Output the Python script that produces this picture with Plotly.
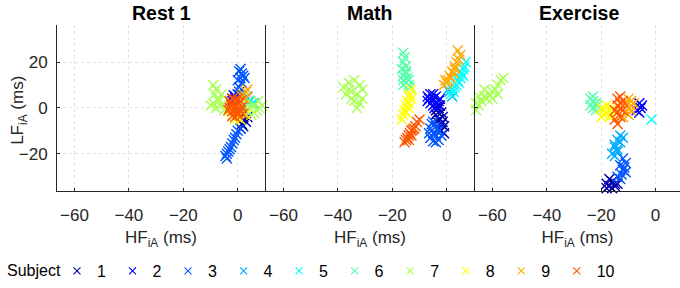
import plotly.graph_objects as go

# ---------------- data ----------------
subject_labels = ["1", "2", "3", "4", "5", "6", "7", "8", "9", "10"]
panel_titles = ["Rest 1", "Math", "Exercise"]
x_ticks = [-60, -40, -20, 0]
y_ticks = [-20, 0, 20]
colors = ["#0000aa", "#0000ff", "#0055ff", "#00aaff", "#00ffff",
          "#55ffaa", "#aaff55", "#ffff00", "#ffaa00", "#ff5500"]

# Rest 1 : HF_iA (x) and LF_iA (y) per subject
rest_hf = [
    [-2, -1, 2, 3, 1.5, 0, -2.5, 2.5, 1, 3.5, -1.5, 2, 2, 1],
    [-1.5, -1, -2, 0],
    [0.5, 1.5, 1, 2, 0, 1.5, 1, 2.5, 0.5, 0.5, 1, 0, -0.5, -1, -1.5, -2, -2.5, -3, -3.5, -4, -4.5, -4],
    [4.5, 5.5, 3.5],
    [5, 4, 6],
    [3, 2.5],
    [-9, -8, -8.5, -7, -9, -6, -8, -5, -7, -6, -10, 4, 6, 7, 5, 8, 6, 3, 9, 7.5],
    [-2, 0, 2, -3, 3, 1, -1],
    [2, 3, 1.5, 3.5, 2.5],
    [-3, -2, -1, 0, 1, -2.5, -1.5, -0.5, 0.5, 1.5, -3.5, -2, -1, 0, 1, -2, -1, 0, -3, 1.8, -0.5, 0.5, -2.5],
]
rest_lf = [
    [4, 5, -4, -6, -7, -3, 2, -2, -5, -4, 1, 0, -8, -9],
    [5.5, 4, 3, 6],
    [16, 15, 13, 14, 12, 11, 17, 13, 9, 7, -9, -10, -11.5, -13, -14, -15.5, -17, -18, -19, -20, -21, -22],
    [3, 2, 5],
    [1.5, 3, 2],
    [-1, 0],
    [10, 8, 6, 4, 2, 1, 0, -1, 3, 6, 1, 0, 1, -1, -3, 0, -2, 2, 1, 3],
    [-3, -4, -2, -1, -3, -5, -5],
    [6, 7, 5, 8, 4],
    [3, 4, 3.5, 4, 3, 1, 1.5, 1, 2, 0.5, -1, -1.5, -1, -2, -1.5, -3.5, -4, -3, 0, -2.5, 2.5, -0.5, 2],
]

# Math
math_hf = [
    [-3, -2, -4, -1.5, -3, -2, -1, -3, -2, -1, -4, -2.5, -3.5, -1.5],
    [-7, -6, -5, -4, -3, -6, -5, -4, -7, -3, -5, -2.5, -6.5, -4.5],
    [-5, -4, -6, -3, -5, -4, -6, -3, -5, -4, -2, -6.5, -5.5, -3.5],
    [1, 2, 0.5],
    [7, 6.5, 6, 5.5, 5, 4, 3.5, 3, 2, 1.5, 2.5, 5, 6, 4.5],
    [-16, -15.5, -16, -15, -16.5, -15, -16, -14.5, -16, -15, -14, -16, -13.5, -15, -14],
    [-38, -36, -34, -32, -35, -33, -31, -37, -34, -32, -33, -35, -31, -36],
    [-13, -13.5, -14, -14.5, -14, -15, -15.5, -15, -16, -16.5, -14, -13],
    [4, 5, 4.5, 3.5, 3, 2, 2.5, 1, 0.5, 0, -1, 1.5, 3, -0.5],
    [-10, -11, -11.5, -12, -13, -13.5, -14, -14.5, -15, -15.5, -12.5, -13, -14],
]
math_lf = [
    [0, -2, -1, -4, -5, -7, -8, -9, -10, -11, -3, 1, -6, -6],
    [5, 6, 4, 5, 3, 2, 1, 2, 3, 1, 6, 4, 4, 0],
    [-6, -8, -9, -10, -11, -12, -13, -14, -14.5, -15, -12, -11, -7, -9],
    [7, 5, 8],
    [20, 18, 17, 15, 13, 12, 10, 9, 8, 6, 7, 16, 14, 11],
    [24, 22, 20, 18, 17, 15, 14, 13, 12, 11, 10, 10, 9, 16, 12],
    [9, 11, 12, 10, 7, 6, 8, 6, 3, 2, 0, 4, 4, 8],
    [8, 6, 5, 3, 2, 1, -1, -2, -3, -5, 0, 4],
    [25, 23, 21, 20, 18, 16, 15, 14, 12, 11, 10, 13, 17, 12],
    [-5, -6, -8, -9, -10, -11, -12, -13, -14, -15, -9.5, -12, -14],
]

# Exercise
ex_hf = [
    [-18, -17, -16, -15, -17, -16, -18, -15, -14],
    [-6, -5.5, -7, -6, -5],
    [-12, -11, -13, -12, -11, -12.5, -13, -11.5, -14],
    [-13, -14, -12, -15, -14, -16, -15, -14, -13, -15],
    [-1.5],
    [-24, -23, -22, -24, -23, -22, -23, -21.5],
    [-67, -66, -65, -64, -63, -62, -61, -60, -59, -58, -57, -56, -60, -63, -65, -58, -66],
    [-20, -19, -18, -17, -16, -19, -17, -20, -18, -16],
    [-10, -9, -11, -9, -10, -11, -9, -10, -8, -12, -11],
    [-14, -13, -12, -14, -13, -14, -13, -15, -14, -12, -13, -15],
]
ex_lf = [
    [-33, -34, -35, -33, -31, -32, -35, -34, -33],
    [2, 0, -1, -2, 1],
    [-22, -24, -25, -27, -28, -29, -31, -26, -30],
    [-12, -14, -13, -16, -18, -20, -21, -19, -15, -17],
    [-5],
    [4, 3, 2, 1, 0, -1, 5, 1],
    [0, 2, 1, 3, 5, 4, 6, 7, 8, 10, 12, 13, 4, 8, 5, 6, -1],
    [0, -1, -2, -1, 0, -3, -4, -4, 1, -3],
    [4, 3, 2, 1, 0, -2, -1, -3, 2, -4, 1],
    [4, 5, 3, 1, 0, -2, -4, -5, -7, -1, 2, -1],
]

# ---------------- figure ----------------
FONT = "Liberation Sans, Arial, sans-serif"
TXT = "#262626"
W, H = 680, 288
fig = go.Figure()

panels = [(rest_hf, rest_lf, "x", "y"), (math_hf, math_lf, "x2", "y2"), (ex_hf, ex_lf, "x3", "y3")]
for p, (hf, lf, xa, ya) in enumerate(panels):
    for i, lab in enumerate(subject_labels):
        fig.add_trace(go.Scatter(
            x=hf[i], y=lf[i], xaxis=xa, yaxis=ya, mode="markers",
            name=lab, legendgroup=lab, showlegend=False, cliponaxis=False,
            marker=dict(symbol="x-thin", size=10, color=colors[i],
                        line=dict(color=colors[i], width=1.4)),
            hoverinfo="x+y+name",
        ))

# legend entries (no data points, smaller symbols as in the reference legend)
for i, lab in enumerate(subject_labels):
    fig.add_trace(go.Scatter(
        x=[None], y=[None], mode="markers", name=lab, legendgroup=lab,
        showlegend=True,
        legendwidth=(0.09 if i == len(subject_labels) - 1 else None),
        marker=dict(symbol="x-thin", size=7, color=colors[i],
                    line=dict(color=colors[i], width=1.1)),
    ))

xdoms = [[57 / W, 265 / W], [266 / W, 474 / W], [475 / W, 1.0]]
xranges = [[-66.4, 10], [-66.4, 10], [-66.4, 8.97]]
ydom = [1 - 196 / H, 1 - 26 / H]

axis_common = dict(showline=True, linecolor=TXT, linewidth=1, mirror=False,
                   ticks="inside", ticklen=3, tickcolor=TXT, zeroline=False,
                   tickfont=dict(family=FONT, size=17, color=TXT))

layout = dict(width=W, height=H, autosize=False,
              margin=dict(l=0, r=0, t=0, b=0),
              paper_bgcolor="white", plot_bgcolor="white",
              font=dict(family=FONT, color=TXT))

for k in range(3):
    sx = "" if k == 0 else str(k + 1)
    layout["xaxis" + sx] = dict(
        axis_common, domain=xdoms[k], range=xranges[k], tickvals=x_ticks,
        anchor="y" + sx, showgrid=True, gridcolor="#e2e2e2", griddash="dot",
        gridwidth=1, ticklabelstandoff=9,
        title=dict(text="HF<sub>iA</sub> (ms)", standoff=7,
                   font=dict(family=FONT, size=17, color=TXT)))
    layout["yaxis" + sx] = dict(
        axis_common, domain=ydom, range=[-36, 36], tickvals=y_ticks,
        anchor="x" + sx, showgrid=(k == 0), gridcolor="#e2e2e2", griddash="dot",
        gridwidth=1, showticklabels=(k == 0), ticklabelstandoff=5)

fig.update_layout(**layout)

ann = []
for k, t in enumerate(panel_titles):
    ann.append(dict(text="<b>%s</b>" % t, xref="paper", yref="paper",
                    x=(xdoms[k][0] + (xdoms[k][0] + 208 / W)) / 2, y=1 - 13 / H,
                    xanchor="center", yanchor="middle", showarrow=False,
                    font=dict(family=FONT, size=19.5, color="black")))
ann.append(dict(text="LF<sub>iA</sub> (ms)", xref="paper", yref="paper",
                x=19 / W, y=1 - 114 / H, textangle=-90, xanchor="center",
                yanchor="middle", showarrow=False,
                font=dict(family=FONT, size=17, color=TXT)))
ann.append(dict(text="Subject", xref="paper", yref="paper",
                x=5 / W, y=1 - 278 / H, xanchor="left", yanchor="middle",
                showarrow=False, font=dict(family=FONT, size=16, color="black")))
fig.update_layout(annotations=ann)

fig.update_layout(legend=dict(
    orientation="h", x=57 / W, xanchor="left", y=1 - 279 / H, yanchor="middle",
    font=dict(family=FONT, size=16, color="black"),
    entrywidthmode="fraction", entrywidth=0.0743,
    itemwidth=30, bgcolor="rgba(0,0,0,0)", tracegroupgap=0,
))

fig.write_html("out.html", config={"displayModeBar": False},
               post_script="document.body.style.margin='0px';")
